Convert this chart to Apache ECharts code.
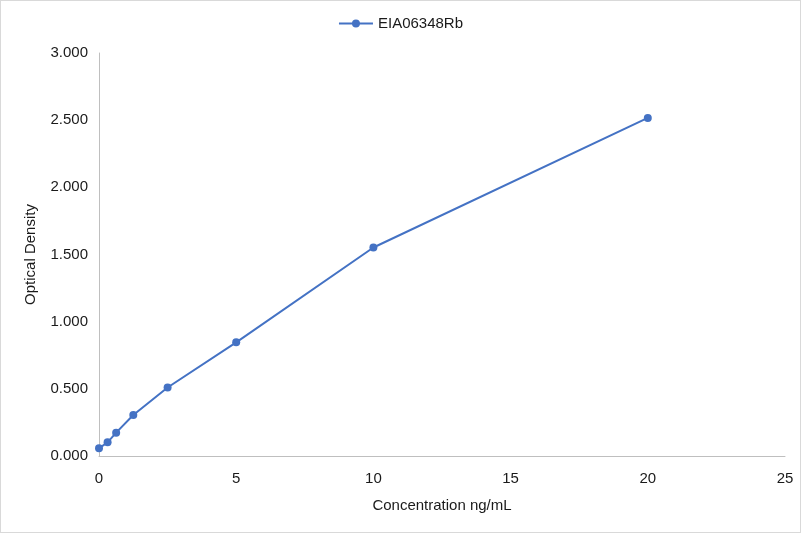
<!DOCTYPE html>
<html><head><meta charset="utf-8">
<script src="https://cdn.jsdelivr.net/npm/echarts@6/dist/echarts.min.js"></script>
<style>html,body{margin:0;padding:0;background:#fff}#c{width:801px;height:533px;box-sizing:border-box;border:1px solid #d9d9d9}</style>
</head><body><div id="c"></div>
<script>
const seriesName = 'EIA06348Rb';
const concentrations = [0, 0.313, 0.625, 1.25, 2.5, 5, 10, 20];
const densities = [0.057, 0.102, 0.174, 0.305, 0.510, 0.846, 1.552, 2.517];
const xTitle = 'Concentration ng/mL';
const yTitle = 'Optical Density';

const chart = echarts.init(document.getElementById('c'));
const font = 'Liberation Sans, Arial, sans-serif';
const txt = '#1a1a1a';
chart.setOption({
  animation: false,
  legend: {
    top: 10, left: 'center',
    itemWidth: 34, itemHeight: 10,
    textStyle: {fontFamily: font, fontSize: 15, color: txt},
    data: [seriesName]
  },
  grid: {left: 98, right: 15, top: 52, bottom: 76},
  xAxis: {
    type: 'value', min: 0, max: 25, interval: 5,
    name: xTitle, nameLocation: 'middle', nameGap: 42,
    nameTextStyle: {fontFamily: font, fontSize: 15, color: txt},
    axisLine: {show: true, lineStyle: {color: '#bfbfbf', width: 1}},
    axisTick: {show: false},
    splitLine: {show: false},
    axisLabel: {fontFamily: font, fontSize: 15, color: txt, margin: 15}
  },
  yAxis: {
    type: 'value', min: 0, max: 3, interval: 0.5,
    name: yTitle, nameLocation: 'middle', nameGap: 61,
    nameTextStyle: {fontFamily: font, fontSize: 15, color: txt},
    axisLine: {show: true, lineStyle: {color: '#bfbfbf', width: 1}},
    axisTick: {show: false},
    splitLine: {show: false},
    axisLabel: {fontFamily: font, fontSize: 15, color: txt, margin: 11,
      formatter: v => v.toFixed(3)}
  },
  series: [{
    name: seriesName, type: 'line',
    data: concentrations.map((x, i) => [x, densities[i]]),
    symbol: 'circle', symbolSize: 8,
    lineStyle: {color: '#4472c4', width: 2},
    itemStyle: {color: '#4472c4'}
  }]
});
</script></body></html>
